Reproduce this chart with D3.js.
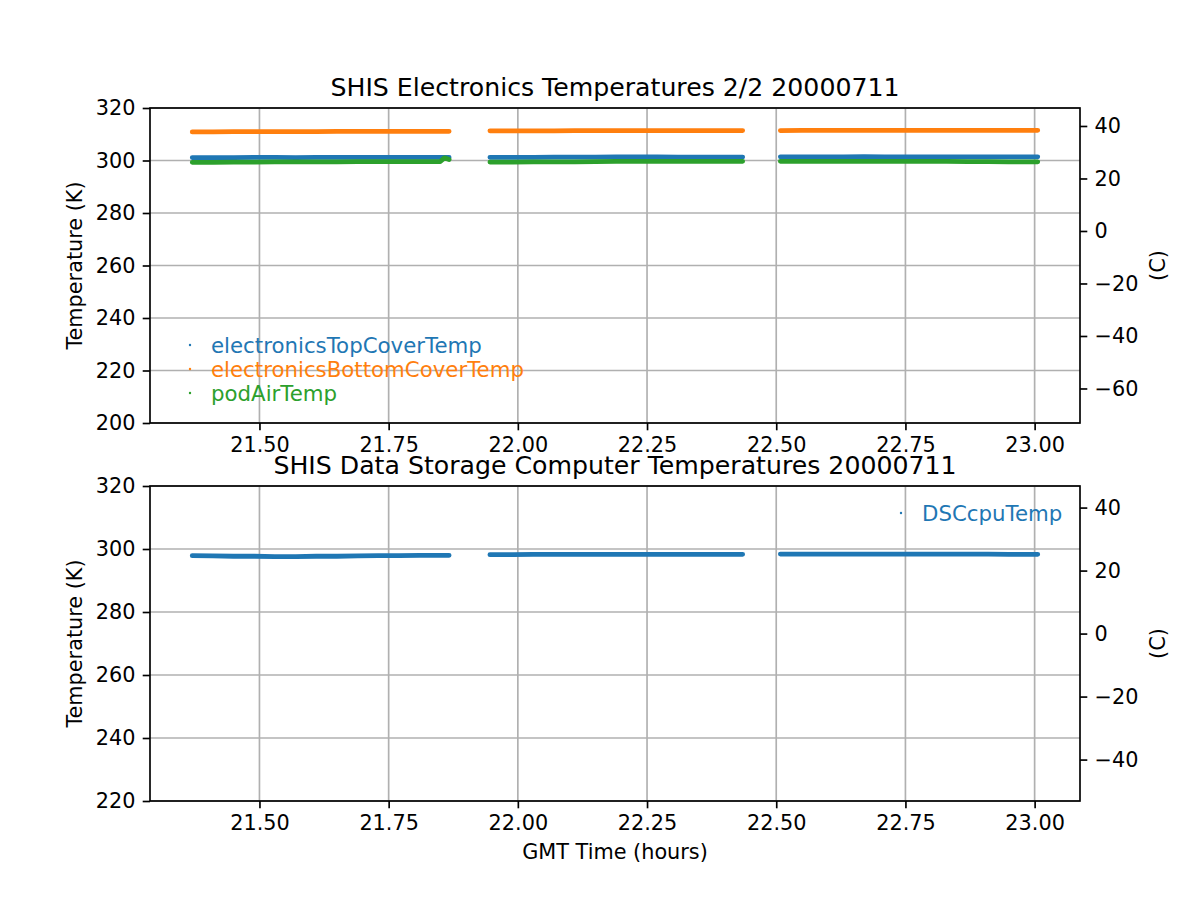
<!DOCTYPE html>
<html>
<head>
<meta charset="utf-8">
<script src="https://cdn.jsdelivr.net/npm/d3@7"></script>
<style>
	body { margin: 0; background: #fff; }
	text { font-family: "DejaVu Sans", sans-serif; fill: #000; }
</style>
</head>
<body>
<svg id="chart" width="1200" height="900"></svg>
<script>
// GMT hours, null marks a gap between the three flight legs
const hours = [
	21.370, 21.41, 21.45, 21.49, 21.53, 21.57, 21.61, 21.65, 21.69, 21.73, 21.77, 21.81, 21.85, 21.858, 21.867,
	null,
	21.946, 21.99, 22.03, 22.07, 22.11, 22.15, 22.19, 22.23, 22.27, 22.31, 22.35, 22.39, 22.435,
	null,
	22.508, 22.55, 22.59, 22.63, 22.67, 22.71, 22.75, 22.79, 22.83, 22.87, 22.91, 22.95, 23.006
];
const electronicsTopCoverTemp = [
	301.1, 301.1, 301.1, 301.2, 301.2, 301.1, 301.2, 301.2, 301.2, 301.2, 301.2, 301.2, 301.2, 301.2, 301.2,
	null,
	301.2, 301.2, 301.2, 301.3, 301.3, 301.3, 301.4, 301.4, 301.4, 301.3, 301.3, 301.3, 301.3,
	null,
	301.4, 301.4, 301.4, 301.4, 301.5, 301.4, 301.4, 301.4, 301.4, 301.4, 301.4, 301.4, 301.4
];
const electronicsBottomCoverTemp = [
	310.9, 310.9, 311.0, 311.0, 311.0, 311.0, 311.0, 311.1, 311.1, 311.1, 311.1, 311.1, 311.1, 311.1, 311.1,
	null,
	311.3, 311.3, 311.3, 311.3, 311.4, 311.4, 311.4, 311.4, 311.4, 311.4, 311.4, 311.4, 311.4,
	null,
	311.4, 311.5, 311.5, 311.5, 311.5, 311.5, 311.5, 311.5, 311.5, 311.5, 311.5, 311.5, 311.5
];
const podAirTemp = [
	299.3, 299.3, 299.4, 299.4, 299.5, 299.5, 299.5, 299.5, 299.6, 299.6, 299.6, 299.6, 299.6, 301.0, 300.4,
	null,
	299.4, 299.4, 299.5, 299.5, 299.5, 299.6, 299.7, 299.7, 299.7, 299.7, 299.7, 299.7, 299.7,
	null,
	299.7, 299.7, 299.7, 299.7, 299.7, 299.7, 299.7, 299.7, 299.7, 299.6, 299.6, 299.5, 299.5
];
const DSCcpuTemp = [
	297.9, 297.8, 297.7, 297.7, 297.6, 297.6, 297.7, 297.7, 297.8, 297.9, 297.9, 298.0, 298.0, 298.0, 298.0,
	null,
	298.2, 298.2, 298.3, 298.3, 298.3, 298.3, 298.3, 298.3, 298.3, 298.3, 298.3, 298.3, 298.3,
	null,
	298.4, 298.4, 298.4, 298.4, 298.4, 298.4, 298.4, 298.4, 298.4, 298.4, 298.4, 298.3, 298.3
];

const xTicks = [21.5, 21.75, 22.0, 22.25, 22.5, 22.75, 23.0];
const topKTicks = [200, 220, 240, 260, 280, 300, 320];
const topCTicks = [-60, -40, -20, 0, 20, 40];
const botKTicks = [220, 240, 260, 280, 300, 320];
const botCTicks = [-40, -20, 0, 20, 40];

const colors = ['#1f77b4', '#ff7f0e', '#2ca02c'];
const fontSize = 20.8;
const legendFont = 21.3;
const left = 150, right = 1080;
const tickLen = 7.3, tickPad = 7.3, lw = 1.67;

const svg = d3.select('#chart');

// x range padded 5% like matplotlib autoscale
const ext = d3.extent(hours.filter(h => h != null));
const pad = (ext[1] - ext[0]) * 0.05;
const x = d3.scaleLinear().domain([ext[0] - pad, ext[1] + pad]).range([left, right]);

const fmtC = d => (d < 0 ? '\u2212' + Math.abs(d) : '' + d);

function makePanel(cfg) {
	const y = d3.scaleLinear().domain(cfg.kDomain).range([cfg.bottom, cfg.top]);
	const yc = d3.scaleLinear().domain([cfg.kDomain[0] - 273.15, cfg.kDomain[1] - 273.15]).range([cfg.bottom, cfg.top]);
	const g = svg.append('g');

	// grid
	g.append('g').selectAll('line.vx')
		.data(xTicks).enter().append('line')
		.attr('x1', d => x(d)).attr('x2', d => x(d))
		.attr('y1', cfg.top).attr('y2', cfg.bottom)
		.attr('stroke', '#b0b0b0').attr('stroke-width', lw);
	g.append('g').selectAll('line.hy')
		.data(cfg.kTicks).enter().append('line')
		.attr('x1', left).attr('x2', right)
		.attr('y1', d => y(d)).attr('y2', d => y(d))
		.attr('stroke', '#b0b0b0').attr('stroke-width', lw);

	// data
	cfg.series.forEach((s, i) => {
		const pts = hours.map((h, j) => [h, s.values[j]]);
		const line = d3.line()
			.defined(d => d[0] != null && d[1] != null)
			.x(d => x(d[0]))
			.y(d => y(d[1]));
		g.append('path')
			.attr('d', line(pts))
			.attr('fill', 'none')
			.attr('stroke', colors[i])
			.attr('stroke-width', 4.8)
			.attr('stroke-linecap', 'round')
			.attr('stroke-linejoin', 'round');
	});

	// axes
	const xAxis = d3.axisBottom(x).tickValues(xTicks).tickFormat(d3.format('.2f'))
		.tickSize(tickLen).tickPadding(tickPad);
	const yAxis = d3.axisLeft(y).tickValues(cfg.kTicks).tickFormat(d3.format('d'))
		.tickSize(tickLen).tickPadding(tickPad);
	const cAxis = d3.axisRight(yc).tickValues(cfg.cTicks).tickFormat(fmtC)
		.tickSize(tickLen).tickPadding(tickPad);

	[
		g.append('g').attr('transform', `translate(0,${cfg.bottom})`).call(xAxis),
		g.append('g').attr('transform', `translate(${left},0)`).call(yAxis),
		g.append('g').attr('transform', `translate(${right},0)`).call(cAxis)
	].forEach(a => {
		a.select('.domain').remove();
		a.selectAll('line').attr('stroke', '#000').attr('stroke-width', lw);
		a.selectAll('text').style('font-size', fontSize + 'px').attr('fill', '#000')
			.style('font-family', '"DejaVu Sans", sans-serif');
	});

	// frame
	g.append('rect')
		.attr('x', left).attr('y', cfg.top)
		.attr('width', right - left).attr('height', cfg.bottom - cfg.top)
		.attr('fill', 'none').attr('stroke', '#000').attr('stroke-width', lw);

	// labels
	g.append('text')
		.attr('x', (left + right) / 2).attr('y', cfg.top - 12.5)
		.attr('text-anchor', 'middle').style('font-size', '25.2px')
		.text(cfg.title);
	const midY = (cfg.top + cfg.bottom) / 2;
	g.append('text')
		.attr('transform', `translate(82,${midY}) rotate(-90)`)
		.attr('text-anchor', 'middle').style('font-size', fontSize + 'px')
		.text('Temperature (K)');
	g.append('text')
		.attr('transform', `translate(1165,${midY}) rotate(-90)`)
		.attr('text-anchor', 'middle').style('font-size', fontSize + 'px')
		.text('(C)');

	// legend (no frame)
	cfg.series.forEach((s, i) => {
		const ly = cfg.legendY + i * 24;
		g.append('circle')
			.attr('cx', cfg.legendX).attr('cy', ly).attr('r', 1.2)
			.attr('fill', colors[i]);
		g.append('text')
			.attr('x', cfg.legendX + 21).attr('y', ly + 7.5)
			.style('font-size', legendFont + 'px')
			.style('fill', colors[i])
			.text(s.name);
	});
	return g;
}

makePanel({
	top: 108, bottom: 423,
	kDomain: [200, 320], kTicks: topKTicks, cTicks: topCTicks,
	title: 'SHIS Electronics Temperatures 2/2 20000711',
	series: [
		{ name: 'electronicsTopCoverTemp', values: electronicsTopCoverTemp },
		{ name: 'electronicsBottomCoverTemp', values: electronicsBottomCoverTemp },
		{ name: 'podAirTemp', values: podAirTemp }
	],
	legendX: 190, legendY: 345
});

makePanel({
	top: 486, bottom: 801,
	kDomain: [220, 320], kTicks: botKTicks, cTicks: botCTicks,
	title: 'SHIS Data Storage Computer Temperatures 20000711',
	series: [
		{ name: 'DSCcpuTemp', values: DSCcpuTemp }
	],
	legendX: 901, legendY: 513
});

svg.append('text')
	.attr('x', (left + right) / 2).attr('y', 859)
	.attr('text-anchor', 'middle').style('font-size', fontSize + 'px')
	.text('GMT Time (hours)');
</script>
</body>
</html>
